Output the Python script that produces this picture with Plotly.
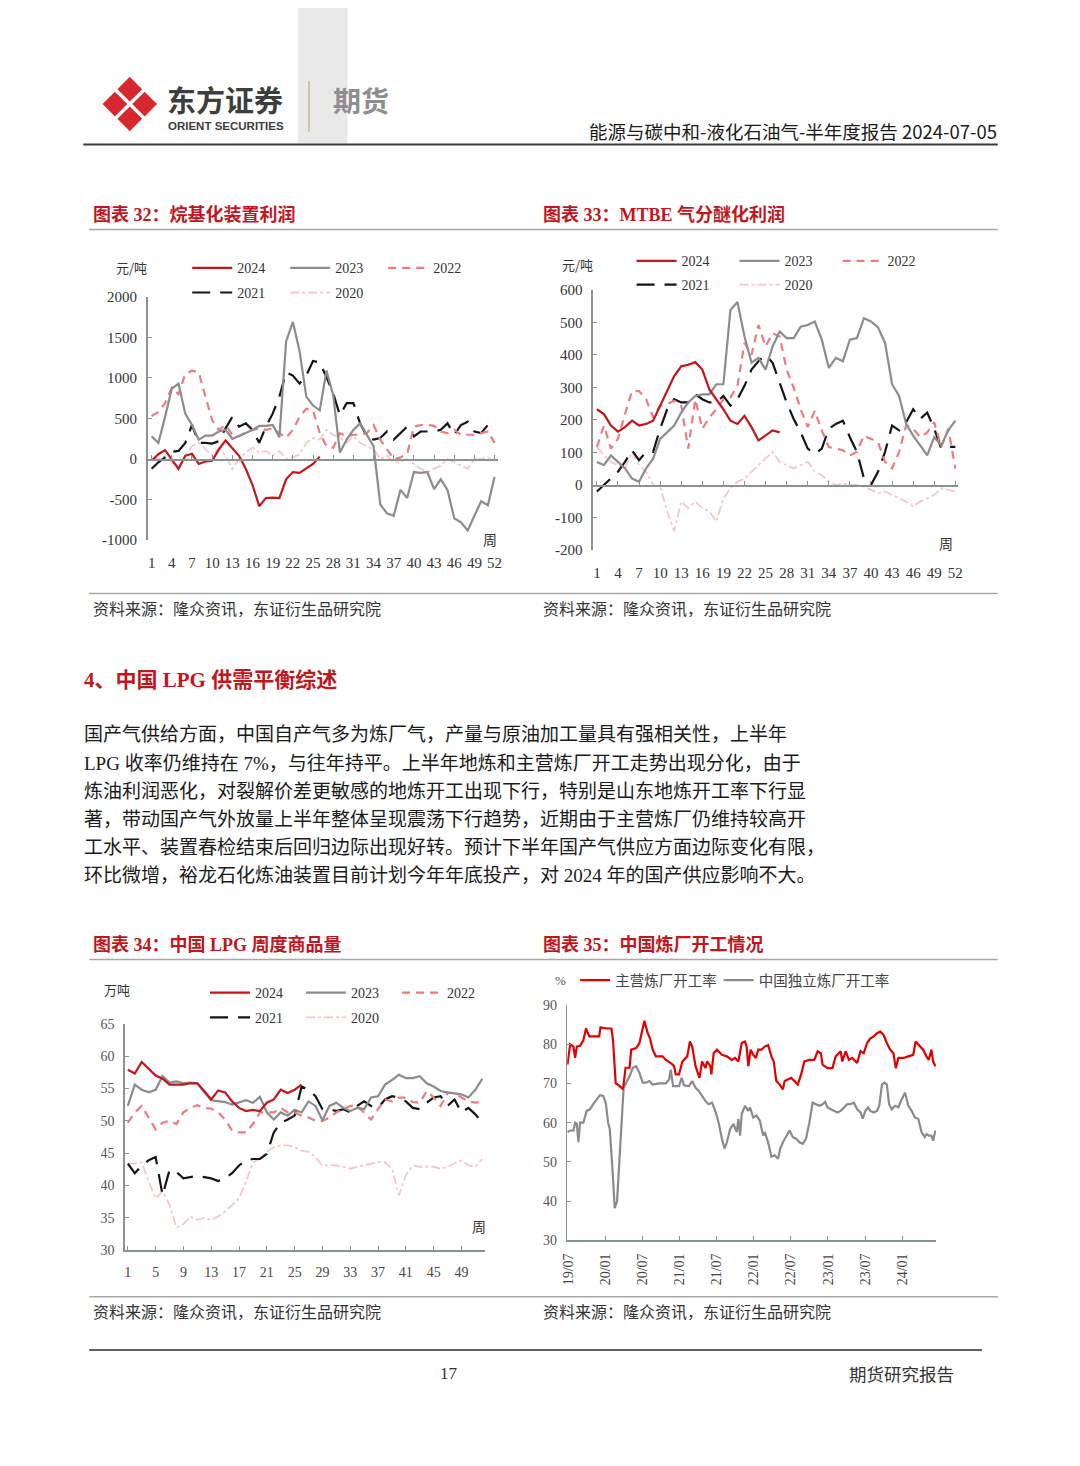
import plotly.graph_objects as go

# The page body keeps an 8px margin; the figure is sized so that the
# whole page is exactly 1080 x 1466 and page pixel p maps to figure p-8.
W, H = 1064, 1450
OFF = 8
def fx(p): return (p - OFF) / W
def fy(p): return 1 - (p - OFF) / H

SERIF = "Liberation Serif, Noto Sans CJK SC, serif"
CJK = "Noto Sans CJK SC, sans-serif"
C24, C23, C22, C21, C20 = "#c0161c", "#8c8c8c", "#ee7b80", "#151515", "#f6c6c8"
AX = "#8a9393"
TXT = "#333333"

# ---------------- data ----------------
weeks = list(range(1, 53))

alk_yticks = [-1000, -500, 0, 500, 1000, 1500, 2000]
mtbe_yticks = [-200, -100, 0, 100, 200, 300, 400, 500, 600]

alk_2024 = [-20, 60, 110, 0, -120, 40, 65, -60, -30, -20, 120, 230, 140, 40, -120, -320, -580, -480, -475, -480,
            -250, -160, -170, -110, -60, 30]
alk_2023 = [280, 200, 520, 870, 930, 560, 420, 240, 290, 290, 340, 360, 250, 290, 320, 360, 410, 410, 420, 270,
            1450, 1690, 1330, 770, 660, 600, 1090, 790, 80, 240, 360, 440, 300, 160, -560, -670, -700, -380, -480, -160,
            -170, -160, -370, -250, -380, -730, -780, -880, -700, -520, -570, -220]
alk_2022 = [530, 580, 690, 880, 800, 1050, 1090, 1070, 770, 480, 360, 420, 300, 280, 330, 360, 380, 360, 380, 320,
            260, 360, 520, 620, 600, 320, 160, 140, 320, 280, 300, 300, 320, 420, 240, 120, 0, 20, 60, 400,
            420, 420, 410, 340, 320, 360, 300, 300, 300, 320, 340, 200]
alk_2021 = [-120, -40, 20, 90, 100, 200, 420, 200, 200, 190, 220, 380, 520, 400, 440, 360, 200, 400, 560, 770,
            1070, 1030, 930, 1030, 1210, 1190, 1010, 810, 540, 690, 690, 440, 280, 240, 260, 340, 240, 320, 400, 280,
            340, 340, 340, 360, 440, 300, 420, 460, 340, 320, 420, 400]
alk_2020 = [0, 0, 40, -40, -120, 40, 160, 200, 120, 40, 140, 40, -120, 0, 80, 140, 80, 100, 40, 100,
            0, 20, 60, 200, 260, 240, 360, 300, 260, 200, 280, 200, 160, 120, 0, 40, -40, -40, 0, -60,
            -120, -160, -120, -80, 0, -40, -80, -120, 0, 0, 20, 0]

mtbe_2024 = [233, 218, 183, 164, 178, 198, 183, 188, 198, 244, 294, 335, 365, 370, 378, 355, 294, 264, 233, 198,
             188, 213, 178, 137, 152, 168, 162]
mtbe_2023 = [71, 61, 91, 71, 51, 20, 10, 51, 81, 142, 162, 183, 223, 254, 274, 279, 279, 310, 310, 538,
             563, 457, 376, 391, 355, 426, 472, 452, 452, 487, 492, 503, 447, 360, 391, 381, 447, 452, 513, 503,
             485, 437, 310, 274, 188, 152, 122, 91, 147, 122, 168, 198]
mtbe_2022 = [117, 183, 112, 142, 218, 289, 289, 264, 208, 244, 249, 259, 244, 112, 264, 173, 208, 233, 264, 269,
             305, 437, 401, 492, 426, 467, 457, 355, 299, 233, 178, 228, 168, 117, 112, 107, 91, 102, 152, 142,
             132, 71, 51, 102, 183, 173, 147, 162, 193, 117, 173, 51]
mtbe_2021 = [-20, 0, 20, 41, 71, 107, 76, 102, 102, 173, 233, 264, 254, 254, 279, 264, 254, 254, 274, 244,
             264, 305, 355, 381, 401, 376, 315, 254, 203, 162, 112, 96, 112, 173, 188, 198, 147, 102, 20, 0,
             41, 102, 183, 168, 193, 233, 203, 223, 173, 112, 117, 117]
mtbe_2020 = [117, 91, 71, 61, 51, 102, 61, 41, 0, -5, -81, -142, -51, -71, -51, -71, -81, -112, -41, -10,
             10, 20, 41, 61, 81, 102, 71, 61, 51, 61, 71, 41, 30, 10, 0, 5, 0, 0, -5, -15,
             -25, -20, -30, -41, -51, -66, -51, -41, -30, -10, -15, -20]

lpg_2024 = [57.9, 57.3, 59.1, 58.1, 57.0, 56.5, 55.6, 55.6, 55.6, 55.8, 55.8, 54.6, 53.3, 54.7, 54.4, 53.0, 52.0,
            51.5, 51.7, 51.5, 52.8, 53.3, 54.8, 54.3, 54.8, 55.6]
lpg_2023 = [52.3, 55.6, 54.8, 54.4, 54.8, 56.9, 55.9, 56.1, 55.8, 55.9, 55.8, 54.4, 53.2, 53.1, 52.9, 52.5, 52.8,
            53.2, 52.8, 53.7, 51.3, 50.2, 51.3, 50.8, 51.7, 51.3, 53.0, 52.3, 50.1, 52.3, 52.8, 52.0, 51.5, 52.0,
            51.8, 53.6, 53.8, 55.6, 56.3, 57.1, 56.6, 56.6, 56.9, 55.8, 55.3, 54.6, 54.4, 54.3, 54.1, 53.6, 54.8, 56.5]
lpg_2022 = [49.7, 51.3, 52.3, 50.5, 48.7, 49.7, 50.0, 49.5, 51.3, 52.0, 52.4, 52.0, 51.9, 51.3, 50.2, 48.5, 48.2,
            48.2, 49.5, 51.3, 51.3, 51.3, 52.0, 51.3, 51.3, 50.8, 50.5, 50.0, 50.0, 50.5, 51.3, 51.8, 52.3, 52.3,
            51.3, 50.2, 51.8, 53.3, 53.0, 53.6, 53.6, 52.9, 52.8, 54.6, 53.6, 52.3, 54.3, 54.3, 53.6, 53.0, 52.8, 53.0]
lpg_2021 = [43.4, 41.9, 43.1, 43.9, 44.4, 38.5, 42.4, 42.1, 41.1, 41.3, 41.5, 41.3, 41.1, 40.7, 41.1, 41.9, 43.1,
            43.9, 44.1, 44.1, 44.9, 48.2, 49.7, 50.2, 50.8, 55.3, 54.8, 53.8, 51.8, 51.8, 51.5, 51.8, 51.3, 52.3,
            53.0, 52.3, 52.0, 53.3, 53.8, 53.6, 53.0, 52.0, 51.8, 52.8, 53.6, 53.8, 52.3, 53.3, 51.3, 52.0, 51.0, 49.7]
lpg_2020 = [43.4, 43.4, 43.6, 40.6, 38.0, 39.1, 37.0, 33.5, 34.0, 35.2, 34.7, 35.0, 34.7, 35.2, 36.0, 37.0, 38.0,
            40.6, 43.6, 44.1, 45.2, 45.9, 46.2, 46.2, 45.9, 45.4, 45.2, 44.4, 43.1, 43.1, 43.1, 42.9, 42.6, 42.9,
            43.1, 43.4, 43.6, 43.6, 42.6, 38.5, 41.6, 43.1, 42.9, 42.9, 42.9, 42.6, 42.9, 43.4, 43.9, 43.1, 42.9, 44.1]

# refinery run rates: time as decimal year
main_t = [2019.49, 2019.527, 2019.571, 2019.593, 2019.616, 2019.660, 2019.704, 2019.740, 2019.784, 2019.882,
          2019.918, 2019.936, 2020.016, 2020.082, 2020.104, 2020.140, 2020.184, 2020.238, 2020.273, 2020.327,
          2020.349, 2020.416, 2020.460, 2020.527, 2020.571, 2020.602, 2020.638, 2020.682, 2020.771, 2020.816,
          2020.882, 2020.927, 2020.949, 2020.993, 2021.038, 2021.104, 2021.140, 2021.171, 2021.216, 2021.269,
          2021.304, 2021.349, 2021.371, 2021.416, 2021.429, 2021.460, 2021.504, 2021.571, 2021.638, 2021.704,
          2021.749, 2021.793, 2021.838, 2021.882, 2021.904, 2021.927, 2021.958, 2021.993, 2022.029, 2022.060,
          2022.104, 2022.149, 2022.193, 2022.238, 2022.269, 2022.304, 2022.349, 2022.393, 2022.416, 2022.460,
          2022.504, 2022.549, 2022.593, 2022.638, 2022.682, 2022.749, 2022.816, 2022.860, 2022.904, 2022.927,
          2022.993, 2023.060, 2023.104, 2023.171, 2023.193, 2023.238, 2023.282, 2023.327, 2023.393, 2023.438,
          2023.482, 2023.527, 2023.571, 2023.616, 2023.660, 2023.704, 2023.749, 2023.793, 2023.838, 2023.882,
          2023.913, 2023.949, 2024.016, 2024.082, 2024.149, 2024.180, 2024.238, 2024.282, 2024.327, 2024.358,
          2024.393, 2024.416, 2024.447]
main_v = [74.8, 80, 79.4, 76.5, 79.4, 79.6, 81, 84, 82, 82, 82, 84.3, 84, 84, 81, 70, 69.5, 68.5, 74, 74,
          78.6, 79, 80.3, 86, 82.8, 81.5, 78.6, 76.9, 76.9, 76, 75.2, 74.4, 72.3, 72.3, 75.6, 76.9, 80.7, 79.4, 74.4, 71.4,
          75.6, 73.9, 75.6, 74.4, 72.3, 77.7, 78.6, 77.3, 76.9, 76, 76.5, 75.6, 80.3, 80.7, 79.4, 74.4, 78.6, 77.3, 76.5, 78.6,
          78.6, 79.4, 79.8, 76.9, 75.6, 70.6, 69.7, 68.5, 70.6, 71, 71.4, 70.6, 69.7, 72.3, 75.6, 76, 76, 78.2, 77.7, 74.8,
          73.9, 73.9, 76.9, 78.2, 75.6, 78.2, 76, 76.5, 75.2, 78.2, 77.7, 80.3, 81.5, 82, 82.8, 83.2, 82.4, 80.3, 78.6, 77.7,
          73.9, 76.5, 76.5, 76.9, 77.3, 80.7, 79.4, 78.6, 76.9, 76, 78.6, 75.6, 74.4]
ind_t = [2019.49, 2019.527, 2019.571, 2019.593, 2019.616, 2019.638, 2019.660, 2019.704, 2019.749, 2019.793,
         2019.838, 2019.882, 2019.927, 2019.971, 2020.007, 2020.038, 2020.060, 2020.096, 2020.127, 2020.158,
         2020.184, 2020.216, 2020.247, 2020.282, 2020.327, 2020.371, 2020.416, 2020.460, 2020.504, 2020.549,
         2020.593, 2020.638, 2020.727, 2020.816, 2020.860, 2020.882, 2020.913, 2020.993, 2021.029, 2021.060,
         2021.127, 2021.171, 2021.216, 2021.260, 2021.304, 2021.349, 2021.393, 2021.438, 2021.482, 2021.527,
         2021.571, 2021.607, 2021.638, 2021.682, 2021.727, 2021.771, 2021.793, 2021.816, 2021.838, 2021.882,
         2021.927, 2021.949, 2021.993, 2022.038, 2022.082, 2022.127, 2022.149, 2022.193, 2022.238, 2022.282,
         2022.327, 2022.358, 2022.393, 2022.438, 2022.482, 2022.527, 2022.571, 2022.616, 2022.660, 2022.704,
         2022.749, 2022.793, 2022.838, 2022.882, 2022.927, 2022.962, 2022.993, 2023.038, 2023.082, 2023.127,
         2023.171, 2023.216, 2023.260, 2023.304, 2023.349, 2023.393, 2023.438, 2023.469, 2023.504, 2023.540,
         2023.571, 2023.616, 2023.660, 2023.691, 2023.727, 2023.762, 2023.793, 2023.824, 2023.860, 2023.904,
         2023.949, 2023.993, 2024.038, 2024.082, 2024.127, 2024.171, 2024.216, 2024.260, 2024.304, 2024.327,
         2024.358, 2024.393, 2024.416, 2024.447]
ind_v = [57.6, 58, 58, 60, 59.7, 55, 60, 60, 63, 63.4, 64.7, 66, 67, 66.8, 65, 60, 58.4, 48.3, 38.2, 39.9,
         48.3, 60, 68.9, 70.2, 71.8, 74, 74.4, 72.7, 70.2, 70.2, 70.6, 69.7, 70, 70, 71, 73.5, 69.3, 69.3, 71.4, 69.5,
         69.3, 70.6, 68.9, 68.1, 66.8, 65.5, 64.7, 65.1, 63, 60, 55.9, 53.4, 55, 58.4, 59.7, 57.6, 60.9, 56.7, 62.2, 64.3,
         63, 63.9, 61.3, 61.8, 60.5, 56.7, 57.6, 55, 51.3, 51.7, 50.8, 53.4, 55, 56.7, 58, 56.3, 55.9, 55, 54.6, 55.9,
         60, 65.1, 64.7, 64.3, 64.7, 65.3, 63.9, 63.4, 63, 62.6, 63, 63.9, 64.7, 64.7, 65.1, 63.4, 62.6, 61, 63, 63.9,
         63, 62.6, 63, 64.3, 69.7, 70.2, 69.7, 64.7, 63.4, 64.3, 63.9, 66, 67.6, 64.3, 63, 61.3, 61, 57.6, 56.3, 57.1,
         56.7, 56.7, 55.4, 58]

date_tickvals = [2019.5, 2020.0, 2020.5, 2021.0, 2021.5, 2022.0, 2022.5, 2023.0, 2023.5, 2024.0]
date_ticktext = ["19/07", "20/01", "20/07", "21/01", "21/07", "22/01", "22/07", "23/01", "23/07", "24/01"]

# ---------------- figure ----------------
fig = go.Figure()

STYLE = {
    "2020": dict(color=C20, width=1.8, dash="dashdot"),
    "2021": dict(color=C21, width=2.2, dash="18px,10px"),
    "2022": dict(color=C22, width=2.2, dash="8px,6px"),
    "2023": dict(color=C23, width=2.2),
    "2024": dict(color=C24, width=2.2),
}
RANK = {"2024": 1, "2023": 2, "2022": 3, "2021": 4, "2020": 5}

def add_years(xa, ya, data, leg_a, leg_b):
    for yr in ["2020", "2021", "2022", "2023", "2024"]:
        vals = data[yr]
        fig.add_trace(go.Scatter(
            x=weeks[:len(vals)], y=vals, mode="lines", name=yr, line=STYLE[yr],
            xaxis=xa, yaxis=ya, legend=leg_a if yr in ("2024", "2023", "2022") else leg_b,
            legendrank=RANK[yr], hoverinfo="skip"))

add_years("x", "y", {"2024": alk_2024, "2023": alk_2023, "2022": alk_2022, "2021": alk_2021, "2020": alk_2020},
          "legend", "legend2")
add_years("x2", "y2", {"2024": mtbe_2024, "2023": mtbe_2023, "2022": mtbe_2022, "2021": mtbe_2021, "2020": mtbe_2020},
          "legend3", "legend4")
add_years("x3", "y3", {"2024": lpg_2024, "2023": lpg_2023, "2022": lpg_2022, "2021": lpg_2021, "2020": lpg_2020},
          "legend5", "legend6")

fig.add_trace(go.Scatter(x=ind_t, y=ind_v, mode="lines", name="中国独立炼厂开工率",
                         line=dict(color="#8a8a8a", width=2.2), xaxis="x4", yaxis="y4",
                         legend="legend8", hoverinfo="skip"))
fig.add_trace(go.Scatter(x=main_t, y=main_v, mode="lines", name="主营炼厂开工率",
                         line=dict(color="#e00000", width=2.2), xaxis="x4", yaxis="y4",
                         legend="legend7", hoverinfo="skip"))

# dummy traces for the zero-line axes
fig.add_trace(go.Scatter(x=[], y=[], xaxis="x5", yaxis="y", showlegend=False))
fig.add_trace(go.Scatter(x=[], y=[], xaxis="x6", yaxis="y2", showlegend=False))

def tf(size, color=TXT):
    return dict(family=SERIF, size=size, color=color)

def yax(top, bottom, rng, tickvals, anchor, size, color=TXT):
    return dict(domain=[fy(bottom), fy(top)], range=rng, tickvals=tickvals, ticktext=[str(v) for v in tickvals],
                showline=True, linecolor=AX,
                linewidth=1.5, ticks="inside", ticklen=4, tickcolor=AX, showgrid=False, zeroline=False,
                tickfont=tf(size, color), anchor=anchor, ticklabelstandoff=6, fixedrange=True)

c32 = dict(l=143, r=497, t=292, b=538, yr=[-1000, 2000], xr=[0.4, 52.5])
c33 = dict(l=593, r=962, t=285, b=548, yr=[-200, 600], xr=[0.44, 52.4])
c34 = dict(l=120, r=484, t=1027, b=1256, yr=[30, 65], xr=[0.57, 52.4])
c35 = dict(l=567, r=940, t=1008, b=1246, yr=[30, 90], xr=[2019.487, 2024.46])

def zero_pos(c):
    y0, y1 = fy(c["b"]), fy(c["t"])
    return y0 + (0 - c["yr"][0]) / (c["yr"][1] - c["yr"][0]) * (y1 - y0)

def xlabels(c, anchor, tickvals, size):
    return dict(domain=[fx(c["l"]), fx(c["r"])], range=c["xr"], tickvals=tickvals, showline=False, ticks="",
                showgrid=False, zeroline=False, tickfont=tf(size), anchor=anchor, ticklabelstandoff=12,
                fixedrange=True)

def zaxis(c, base, tickvals):
    return dict(overlaying=base, range=c["xr"], anchor="free", position=zero_pos(c), tickvals=tickvals,
                showticklabels=False, showline=True, linecolor=AX, linewidth=1.5, ticks="inside", ticklen=4,
                tickcolor=AX, showgrid=False, zeroline=False, fixedrange=True)

wk3 = list(range(1, 53, 3))
wk4 = list(range(1, 53, 4))

fig.update_layout(
    xaxis=xlabels(c32, "y", wk3, 15),
    yaxis=yax(c32["t"], c32["b"], c32["yr"], alk_yticks, "x", 15),
    xaxis5=zaxis(c32, "x", wk3),
    xaxis2=xlabels(c33, "y2", wk3, 15),
    yaxis2=yax(c33["t"], c33["b"], c33["yr"], mtbe_yticks, "x2", 15),
    xaxis6=zaxis(c33, "x2", wk3),
    xaxis3=dict(domain=[fx(c34["l"]), fx(c34["r"])], range=c34["xr"], tickvals=wk4, showline=True, linecolor=AX,
                linewidth=1.5, ticks="inside", ticklen=4, tickcolor=AX, showgrid=False, zeroline=False,
                tickfont=tf(14, "#444"), anchor="y3", ticklabelstandoff=8, fixedrange=True),
    yaxis3=yax(c34["t"], c34["b"], c34["yr"], list(range(30, 66, 5)), "x3", 14, "#555"),
    xaxis4=dict(domain=[fx(c35["l"]), fx(c35["r"])], range=c35["xr"], tickvals=date_tickvals,
                ticktext=date_ticktext, tickangle=-90, showline=True, linecolor=AX, linewidth=1.5,
                ticks="inside", ticklen=4, tickcolor=AX, showgrid=False, zeroline=False,
                tickfont=tf(14, "#444"), anchor="y4", ticklabelstandoff=6, fixedrange=True),
    yaxis4=yax(c35["t"], c35["b"], c35["yr"], list(range(30, 91, 10)), "x4", 14, "#555"),
)

def leg(x, y, ew, size=14, family=SERIF, color=TXT, iw=40):
    return dict(orientation="h", x=fx(x), y=fy(y), xanchor="left", yanchor="middle",
                bgcolor="rgba(0,0,0,0)", borderwidth=0, font=dict(family=family, size=size, color=color),
                entrywidth=ew, entrywidthmode="pixels", itemwidth=iw, tracegroupgap=0, itemclick=False,
                itemdoubleclick=False)

fig.update_layout(
    legend=leg(183, 263, 43),
    legend2=leg(183, 288, 43),
    legend3=leg(632, 256, 48),
    legend4=leg(632, 280, 48),
    legend5=leg(201, 996, 41),
    legend6=leg(201, 1021, 41),
    legend7=leg(575, 983, 0, size=14.5, family=CJK, color="#444", iw=30),
    legend8=leg(720, 983, 0, size=14.5, family=CJK, color="#444", iw=30),
)

# ---------------- page decoration ----------------
shapes = []
def hline(y, x0, x1, color, w):
    shapes.append(dict(type="line", xref="paper", yref="paper", x0=fx(x0), x1=fx(x1), y0=fy(y), y1=fy(y),
                       line=dict(color=color, width=w)))

shapes.append(dict(type="rect", xref="paper", yref="paper", x0=fx(295), x1=fx(345), y0=fy(137), y1=fy(0),
                   fillcolor="#e9e9e9", line=dict(width=0), layer="below"))
shapes.append(dict(type="line", xref="paper", yref="paper", x0=fx(306), x1=fx(306), y0=fy(74), y1=fy(125),
                   line=dict(color="#c9b896", width=1.5)))
hline(138, 78, 1002, "#3a3a3a", 2)
hline(224, 84, 1002, "#a8a8a8", 1.5)
hline(592, 84, 1002, "#a8a8a8", 1.5)
hline(962, 84, 1002, "#a8a8a8", 1.5)
hline(1303, 84, 1002, "#a8a8a8", 1.5)
hline(1357, 84, 986, "#2a2a2a", 1.5)

# logo: four diamonds
LOGO_C = (125, 97)
for dx, dy in [(0, -15), (-15, 0), (15, 0), (0, 15)]:
    cx, cy = LOGO_C[0] + dx, LOGO_C[1] + dy
    h = 12.5
    path = "M {} {} L {} {} L {} {} L {} {} Z".format(fx(cx), fy(cy - h), fx(cx + h), fy(cy), fx(cx), fy(cy + h),
                                                      fx(cx - h), fy(cy))
    shapes.append(dict(type="path", xref="paper", yref="paper", path=path, fillcolor="#d7282f",
                       line=dict(width=0)))
fig.update_layout(shapes=shapes)

anns = []
def ann(text, x, y, size, color=TXT, family=CJK, xanchor="left"):
    anns.append(dict(text=text, x=fx(x), y=fy(y), xref="paper", yref="paper", xanchor=xanchor, yanchor="middle",
                     showarrow=False, font=dict(family=family, size=size, color=color)))

ann("<b>东方证券</b>", 161, 92, 29, "#3d3d3d")
ann("<b>ORIENT SECURITIES</b>", 162, 119, 11.5, "#3d3d3d", "Liberation Sans, Arial, sans-serif")
ann("<b>期货</b>", 328, 93, 28, "#8d8d8d")
ann("能源与碳中和-液化石油气-半年度报告 2024-07-05", 1003, 124, 18.5, "#1a1a1a", CJK, "right")

RED = "#c0161c"
ann("<b>图表 32：烷基化装置利润</b>", 86, 209, 18, RED, SERIF)
ann("<b>图表 33：MTBE 气分醚化利润</b>", 541, 209, 18, RED, SERIF)
ann("<b>图表 34：中国 LPG 周度商品量</b>", 86, 947, 18, RED, SERIF)
ann("<b>图表 35：中国炼厂开工情况</b>", 541, 947, 18, RED, SERIF)

ann("元/吨", 127, 262, 13, TXT, CJK, "center")
ann("元/吨", 577, 259, 13, TXT, CJK, "center")
ann("万吨", 112, 992, 13, TXT, CJK, "center")
ann("%", 560, 983, 13, "#555", SERIF, "center")
ann("周", 489, 537, 14, TXT, CJK, "center")
ann("周", 950, 541, 14, TXT, CJK, "center")
ann("周", 478, 1232, 14, TXT, CJK, "center")

SRC = "资料来源：隆众资讯，东证衍生品研究院"
for (x, y) in [(86, 607), (541, 607), (86, 1317), (541, 1317)]:
    ann(SRC, x, y, 16, TXT, CJK)

ann("<b>4、中国 LPG 供需平衡综述</b>", 77, 679, 21, RED, SERIF)

para = [
    "国产气供给方面，中国自产气多为炼厂气，产量与原油加工量具有强相关性，上半年",
    "LPG 收率仍维持在 7%，与往年持平。上半年地炼和主营炼厂开工走势出现分化，由于",
    "炼油利润恶化，对裂解价差更敏感的地炼开工出现下行，特别是山东地炼开工率下行显",
    "著，带动国产气外放量上半年整体呈现震荡下行趋势，近期由于主营炼厂仍维持较高开",
    "工水平、装置春检结束后回归边际出现好转。预计下半年国产气供应方面边际变化有限，",
    "环比微增，裕龙石化炼油装置目前计划今年年底投产，对 2024 年的国产供应影响不大。",
]
for i, line in enumerate(para):
    ann(line, 77, 735 + i * 28.4, 19, "#1a1a1a", SERIF)

ann("17", 448, 1381, 17, TXT, SERIF, "center")
ann("期货研究报告", 905, 1381, 17.5, TXT, CJK, "center")

fig.update_layout(annotations=anns)

fig.update_layout(
    width=W, height=H, margin=dict(l=0, r=0, t=0, b=0, pad=0),
    paper_bgcolor="white", plot_bgcolor="rgba(0,0,0,0)",
    font=dict(family=SERIF, size=14, color=TXT),
    hovermode=False,
)

fig.write_html("out.html", config={"displayModeBar": False, "staticPlot": True})
